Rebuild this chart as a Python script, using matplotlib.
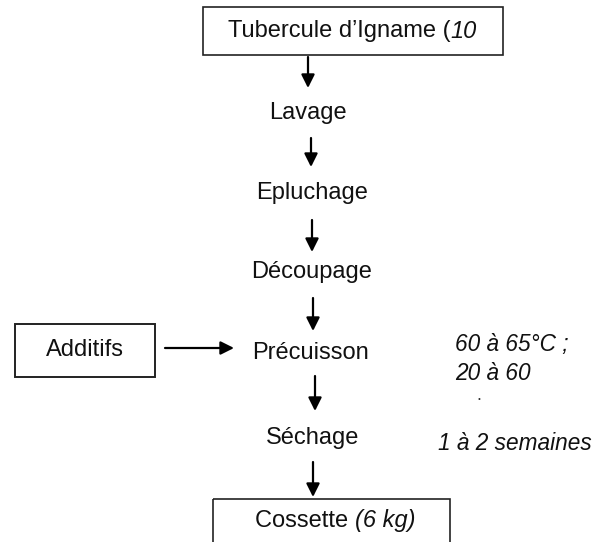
import matplotlib.pyplot as plt
from matplotlib.patches import Rectangle

plt.rcParams["font.family"] = ["Liberation Sans", "DejaVu Sans"]

steps = ["Lavage", "Epluchage", "Découpage", "Précuisson", "Séchage"]
start_label = "Tubercule d\u2019Igname ("
start_qty = "10"
end_label = "Cossette "
end_qty = "(6 kg)"
side_input = "Additifs"
notes = {"Précuisson": "60 à 65°C ;\n20 à 60", "Séchage": "1 à 2 semaines"}

W, H = 598, 542
fig = plt.figure(figsize=(W / 100, H / 100), dpi=100)
ax = fig.add_axes([0, 0, 1, 1])
ax.set_xlim(0, W)
ax.set_ylim(H, 0)
ax.axis("off")

FS = 17
NOTE_FS = 16.3
step_x = [308, 312, 312, 310, 313]
step_y = [113, 193, 272, 353, 438]
arrow_x = [308, 311, 312, 313, 315, 313]
arrow_top = [57, 138, 220, 298, 376, 462]
arrow_bot = [88, 167, 252, 331, 411, 497]


def arrow(x0, y0, x1, y1):
    ax.annotate("", xy=(x1, y1), xytext=(x0, y0),
                arrowprops=dict(arrowstyle="-|>", color="black", lw=1.6,
                                mutation_scale=20, shrinkA=0, shrinkB=0))


def mixed(x, y, plain, italic):
    t = ax.text(x, y, plain, fontsize=FS, va="center", ha="left", color="#111111")
    fig.canvas.draw()
    bb = t.get_window_extent().transformed(ax.transData.inverted())
    ax.text(bb.x1, y, italic, fontsize=FS, va="center", ha="left",
            style="italic", color="#111111")


# start box
ax.add_patch(Rectangle((203, 7), 300, 48, fill=False, ec="#222222", lw=1.2))
mixed(228, 31, start_label, start_qty)

for name, x, y in zip(steps, step_x, step_y):
    ax.text(x, y, name, fontsize=FS, ha="center", va="center", color="#111111")

for x, y0, y1 in zip(arrow_x, arrow_top, arrow_bot):
    arrow(x, y0, x, y1)

# side input
ax.add_patch(Rectangle((15, 324), 140, 53, fill=False, ec="#222222", lw=1.4))
ax.text(85, 350, side_input, fontsize=FS, ha="center", va="center", color="#111111")
arrow(165, 348, 234, 348)

# notes
ax.text(455, 359, notes["Précuisson"], fontsize=NOTE_FS, style="italic",
        ha="left", va="center", linespacing=1.3, color="#111111")
ax.text(479, 396, ".", fontsize=13, ha="center", va="center", color="#333333")
ax.text(438, 443, notes["Séchage"], fontsize=NOTE_FS, style="italic",
        ha="left", va="center", color="#111111")

# end box
ax.add_patch(Rectangle((213, 499), 237, 60, fill=False, ec="#222222", lw=1.2))
mixed(255, 521, end_label, end_qty)

fig.savefig("out.png", dpi=100)
